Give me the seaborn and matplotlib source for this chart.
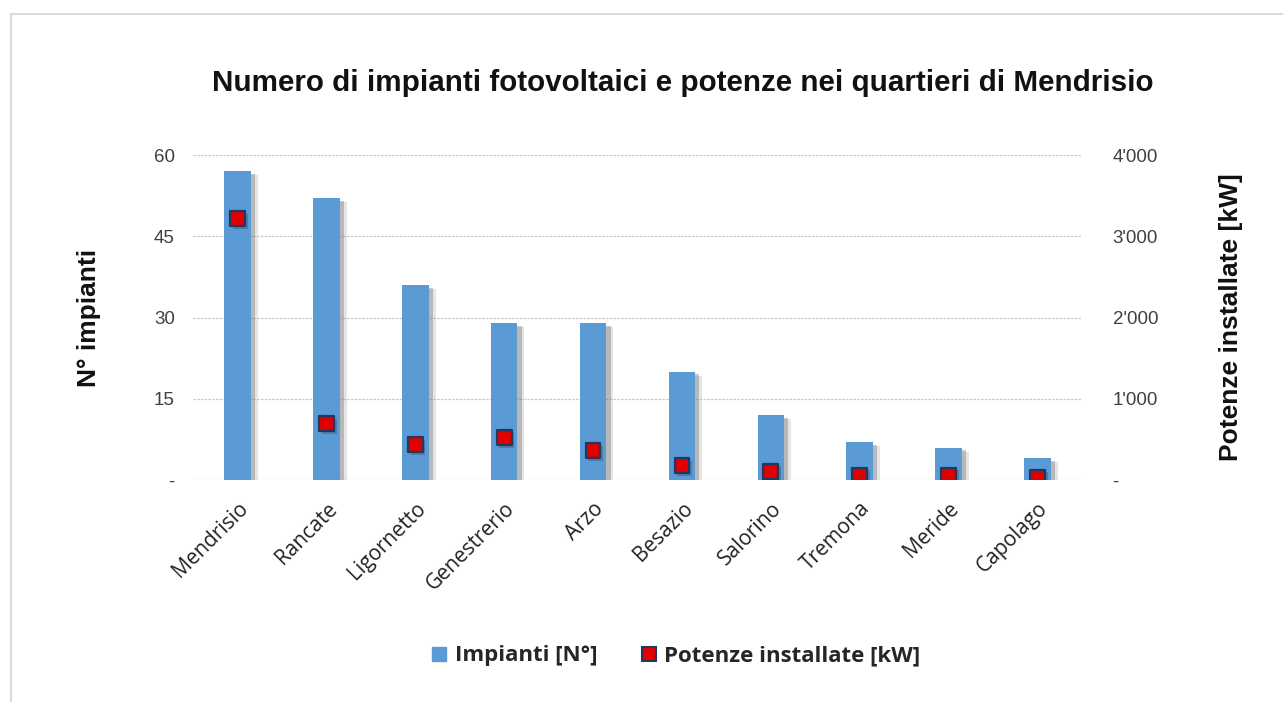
import matplotlib
matplotlib.use("Agg")
import matplotlib.pyplot as plt
import matplotlib.patheffects as pe
from matplotlib.patches import Rectangle
from matplotlib.lines import Line2D
from matplotlib.ticker import FixedLocator
import seaborn as sns
import pandas as pd

categories = ["Mendrisio", "Rancate", "Ligornetto", "Genestrerio", "Arzo",
              "Besazio", "Salorino", "Tremona", "Meride", "Capolago"]
impianti = [57, 52, 36, 29, 29, 20, 12, 7, 6, 4]
potenze = [3220, 690, 435, 525, 365, 175, 110, 62, 62, 37]
left_ticks = [0, 15, 30, 45, 60]
left_labels = ["-", "15", "30", "45", "60"]
right_ticks = [0, 1000, 2000, 3000, 4000]
right_labels = ["-", "1'000", "2'000", "3'000", "4'000"]

df = pd.DataFrame({"Quartiere": categories, "Impianti": impianti, "Potenze": potenze})

sns.set_theme(style="white")
plt.rcParams["font.family"] = ["Liberation Sans", "DejaVu Sans"]

W, H = 1283, 702
fig = plt.figure(figsize=(W / 100, H / 100), dpi=100)
ax = fig.add_axes([193 / W, 1 - 480 / H, (1082 - 193) / W, (480 - 155) / H])

bar_color = "#5B9BD5"
sns.barplot(data=df, x="Quartiere", y="Impianti", color=bar_color, width=0.3,
            saturation=1, linewidth=0, ax=ax, zorder=3)
for p in ax.patches:
    p.set_path_effects([
        pe.SimplePatchShadow(offset=(5, -3), shadow_rgbFace="#9a9a9a", alpha=0.25),
        pe.SimplePatchShadow(offset=(3, -2), shadow_rgbFace="#666666", alpha=0.35),
        pe.Normal()])

ax.set_ylim(0, 60)
ax.set_xlim(-0.5, len(categories) - 0.5)
ax.yaxis.set_major_locator(FixedLocator(left_ticks))
ax.set_yticklabels(left_labels, fontsize=13.5, color="#404040")
ax.grid(axis="y", color="#c8c8c8", linestyle=(0, (2, 1)), linewidth=0.9, zorder=0)
ax.set_axisbelow(True)
for s in ax.spines.values():
    s.set_visible(False)
ax.tick_params(axis="y", length=0, pad=13)
ax.tick_params(axis="x", length=0, pad=13)
ax.set_xlabel("")
ax.set_ylabel("N° impianti", fontsize=19, fontweight="bold", labelpad=38, color="#111111")
for lbl in ax.get_xticklabels():
    lbl.set_rotation(45)
    lbl.set_ha("right")
    lbl.set_rotation_mode("anchor")
    lbl.set_fontsize(15)
    lbl.set_family(["Open Sans", "DejaVu Sans"])
    lbl.set_color("#222222")

ax2 = ax.twinx()
sns.scatterplot(data=df, x="Quartiere", y="Potenze", marker="s", s=115,
                color="#E00000", edgecolor="#1F3864", linewidth=1.6, ax=ax2, zorder=5,
                legend=False)
for c in ax2.collections:
    c.set_path_effects([pe.SimplePatchShadow(offset=(2, -2), shadow_rgbFace="#444444", alpha=0.35),
                        pe.Normal()])
ax2.set_ylim(0, 4000)
ax2.set_xlim(-0.5, len(categories) - 0.5)
ax2.yaxis.set_major_locator(FixedLocator(right_ticks))
ax2.set_yticklabels(right_labels, fontsize=13.5, color="#404040")
ax2.tick_params(axis="y", length=0, pad=22)
ax2.grid(False)
for s in ax2.spines.values():
    s.set_visible(False)
ax2.set_xlabel("")
ax2.set_ylabel("Potenze installate [kW]", fontsize=19, fontweight="bold", labelpad=44,
               color="#111111")

fig.text(683 / W, 1 - 83 / H,
         "Numero di impianti fotovoltaici e potenze nei quartieri di Mendrisio",
         ha="center", va="center", fontsize=21.3, fontweight="bold", color="#111111")

handles = [
    Line2D([], [], marker="s", linestyle="none", markersize=10, markerfacecolor=bar_color,
           markeredgecolor=bar_color, label="Impianti [N°]"),
    Line2D([], [], marker="s", linestyle="none", markersize=10, markerfacecolor="#E00000",
           markeredgecolor="#1F3864", markeredgewidth=1.5, label="Potenze installate [kW]"),
]
fig.legend(handles=handles, loc="center", bbox_to_anchor=(672 / W, 1 - 656 / H), ncol=2,
           frameon=False, handletextpad=0.0, columnspacing=1.6, handlelength=1.4,
           prop={"family": ["Open Sans", "DejaVu Sans"], "weight": "bold", "size": 16})

fig.patches.append(Rectangle((11 / W, -0.1), 1.2, 1 - 14 / H + 0.1, transform=fig.transFigure,
                             fill=False, edgecolor="#d9d9d9", linewidth=1.5))

fig.savefig("out.png", dpi=100, facecolor="white")
